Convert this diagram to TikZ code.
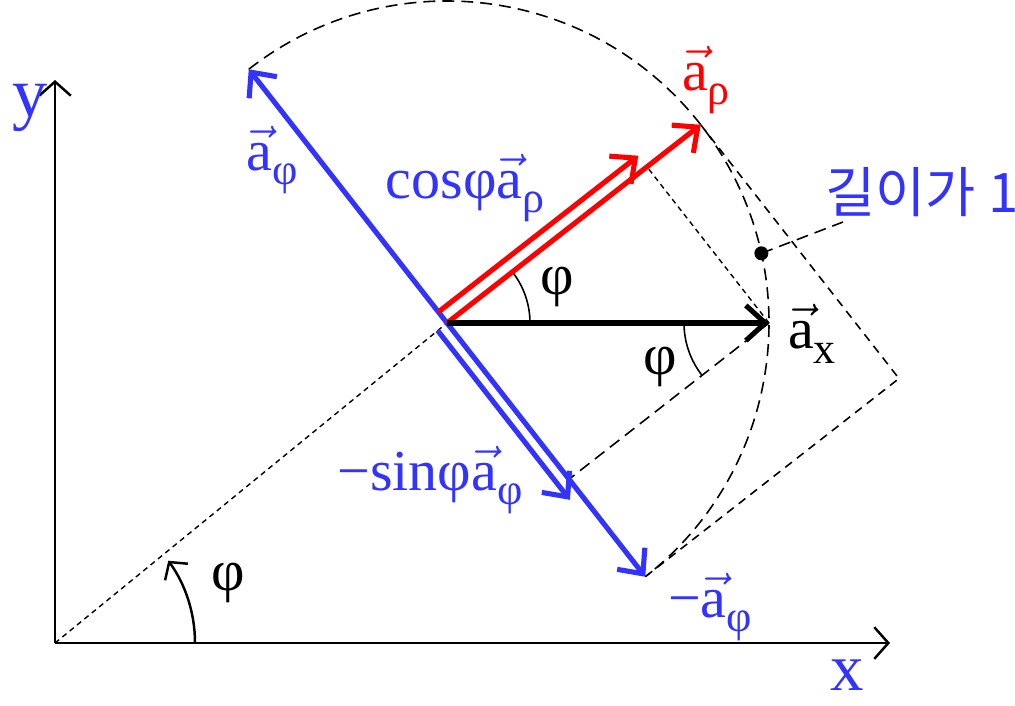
\documentclass[tikz,border=0pt]{standalone}
\usepackage{fontspec}
\setmainfont{Liberation Serif}
\newfontfamily\krfont{Noto Sans CJK KR}
\usetikzlibrary{arrows.meta,calc}
\definecolor{vblue}{RGB}{51,51,255}
\newcommand{\va}[1]{$\vec{\mbox{a}}$\raisebox{-0.55ex}{\fontsize{12.5}{13}\selectfont#1}}

\begin{document}
\begin{tikzpicture}[x=0.01cm, y=-0.01cm,
	axis/.style={line width=0.7pt, -{Straight Barb[length=4pt,width=9pt]}},
	vect/.style={line width=1.45pt, -{Straight Barb[length=5.5pt,width=10pt]}},
	guide/.style={line width=0.45pt, dash pattern=on 3.4pt off 2pt},
	fine/.style={line width=0.4pt, dash pattern=on 1.5pt off 1.2pt},
	lbl/.style={font=\fontsize{16.5}{19}\selectfont, inner sep=1pt}]
	\useasboundingbox (0,0) rectangle (1015,705);
	\def\ph{38}
	\def\R{322}
	% Points:
	\coordinate (O) at (55,643);
	\coordinate (xend) at (890,643);
	\coordinate (yend) at (55,80);
	\coordinate (P) at (447,323);
	\coordinate (rho) at ($(P)+(-\ph:\R)$);
	\coordinate (ax) at ($(P)+(0:\R)$);
	\coordinate (phi) at ($(P)+(-90-\ph:\R)$);
	\coordinate (mphi) at ($(P)+(90-\ph:\R)$);
	\coordinate (corner) at ($(rho)+(90-\ph:\R)$);
	\coordinate (footrho) at ($(P)+(-\ph:{\R*cos(\ph)})$);
	\coordinate (footphi) at ($(P)+(90-\ph:{\R*sin(\ph)})$);
	\coordinate (cosstart) at ($(P)+(-90-\ph:14)$);
	\coordinate (cosend) at ($(cosstart)+(-\ph:{\R*cos(\ph)})$);
	\coordinate (sinstart) at ($(P)+(180-\ph:12)$);
	\coordinate (sinend) at ($(sinstart)+(90-\ph:215)$);
	\coordinate (dot) at ($(P)+(-12.5:\R)$);
	\coordinate (lead) at (843,222);
	% Axes:
	\draw[axis] (O) -- (xend);
	\draw[axis] (O) -- (yend);
	% Dashed guides:
	\draw[fine] (O) -- (P);
	\draw[fine] (ax) -- (footrho);
	\draw[guide] (ax) -- (footphi);
	\draw[guide] (phi) arc[start angle=-90-\ph, end angle=90-\ph, radius=\R];
	\draw[guide, dash pattern=on 2.4pt off 1.8pt] (rho) -- (corner) -- (mphi);
	\draw[guide] (dot) -- (lead);
	\fill (dot) circle (7);
	% Angles:
	\draw[line width=0.45pt] (P) ++(83,0) arc[start angle=0, end angle=-\ph, radius=83];
	\draw[line width=0.45pt] (ax) ++(-85,0) arc[start angle=180, end angle=180-\ph, radius=85];
	\draw[line width=0.7pt, -{Straight Barb[length=3.5pt,width=8pt]}] (O) ++(140,0) arc[start angle=0, end angle=-36, radius=140];
	% Vectors:
	\draw[vect, vblue] (P) -- (phi);
	\draw[vect, vblue] (P) -- (mphi);
	\draw[vect, vblue] (sinstart) -- (sinend);
	\draw[vect, red] (cosstart) -- (cosend);
	\draw[vect, red] (P) -- (rho);
	\draw[vect] (P) -- (ax);
	% Labels:
	\node[lbl, text=vblue, font=\fontsize{20}{22}\selectfont] (ylab) at (30,108) {y};
	\node[lbl, text=vblue, font=\fontsize{19}{21}\selectfont] (xlab) at (847,675) {x};
	\node[lbl, text=vblue] (aphilab) at (272,160) {\va{φ}};
	\node[lbl, text=vblue] (coslab) at (465,188) {cosφ\va{ρ}};
	\node[lbl, text=red] (arholab) at (706,80) {\va{ρ}};
	\node[lbl] (axlab) at (812,334) {\va{x}};
	\node[lbl, text=vblue] (sinlab) at (430,480) {−sinφ\va{φ}};
	\node[lbl, text=vblue] (mphilab) at (710,607) {−\va{φ}};
	\node[lbl, text=vblue, font=\krfont\fontsize{15.5}{18}\selectfont] (unitlab) at (922,192) {길이가 1};
	\node[lbl] (ang1) at (557,287) {φ};
	\node[lbl] (ang2) at (660,367) {φ};
	\node[lbl] (ang3) at (228,583) {φ};
\end{tikzpicture}
\end{document}
